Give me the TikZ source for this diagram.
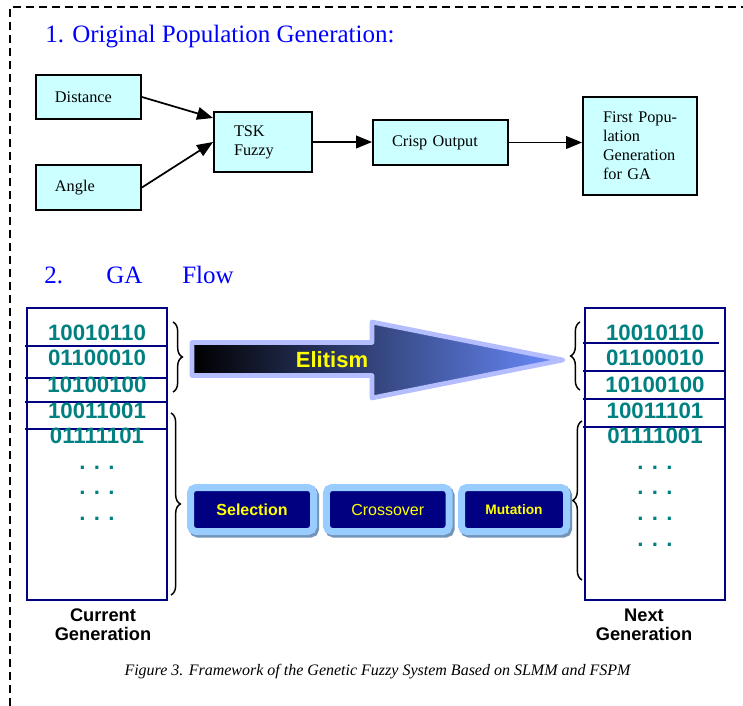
\documentclass[tikz,border=0pt]{standalone}
\usepackage{fontspec}
\setmainfont{Liberation Serif}
\setsansfont{Liberation Sans}
\usetikzlibrary{arrows.meta,decorations.pathreplacing}
\definecolor{boxcyan}{HTML}{CCFFFF}
\definecolor{titleblue}{HTML}{0000FF}
\definecolor{tablenavy}{HTML}{000080}
\definecolor{bitteal}{HTML}{008080}
\definecolor{btnnavy}{HTML}{000080}
\definecolor{btnblue}{HTML}{99CCFF}
\definecolor{btnshadow}{HTML}{7393B8}
\definecolor{btnyellow}{HTML}{FFFF00}
\definecolor{elitblue}{HTML}{6A8CFF}
\definecolor{elitrim}{HTML}{B4BEFF}
\begin{document}
\begin{tikzpicture}[x=0.75pt,y=-0.75pt,
    fuzzybox/.style={draw,fill=boxcyan,line width=1.4pt,align=left,inner ysep=0pt,
      font=\fontsize{12.2}{14.3}\selectfont},
    flowarrow/.style={line width=1.3pt,-{Triangle[length=12pt,width=9.5pt]}},
    heading/.style={anchor=base west,inner sep=0pt,text=titleblue,
      font=\fontsize{18.75}{22}\selectfont},
    poptable/.style={draw=tablenavy,line width=1.9pt,minimum width=105pt,
      minimum height=219pt,inner sep=0pt},
    divider/.style={draw=tablenavy,line width=1.9pt},
    bits/.style={text=bitteal,inner sep=0pt,font=\sffamily\bfseries\fontsize{16.7}{18}\selectfont},
    genbrace/.style={decorate,decoration={brace,amplitude=7pt},line width=1.1pt},
    gabutton/.style={fill=btnnavy,draw=btnblue,line width=5.25pt,rounded corners=4pt,
      minimum height=33pt,inner sep=0pt,text=btnyellow,
      preaction={fill=btnshadow,draw=btnshadow,transform canvas={xshift=1.6pt,yshift=-2pt}}},
    genlabel/.style={align=center,inner sep=0pt,font=\sffamily\bfseries\fontsize{13.7}{14.3}\selectfont}]
  \useasboundingbox (0,0) rectangle (743,706);
  \draw[line width=1.3pt,dash pattern=on 6pt off 3.75pt] (10,706) -- (10,7) -- (743,7);

  % 1. original population
  \path (45,43) node[heading] (head1) {1. Original Population Generation:};
  \path (88.5,97) node[fuzzybox,inner xsep=14.25pt,text width=50.25pt,minimum height=33pt] (dist) {Distance};
  \path (88.5,187.5) node[fuzzybox,inner xsep=14.25pt,text width=50.25pt,minimum height=33.75pt] (angle) {Angle};
  \path (263,142) node[fuzzybox,inner xsep=15pt,text width=43.5pt,minimum height=45pt] (tsk) {TSK\\Fuzzy};
  \path (440.5,142.5) node[fuzzybox,inner xsep=14.25pt,text width=72.75pt,minimum height=33.75pt] (crisp) {Crisp Output};
  \path (640,146) node[fuzzybox,inner xsep=15pt,text width=55.5pt,minimum height=73.5pt] (first) {\mbox{First Popu-}\\lation\\Generation\\for GA};

  \draw[flowarrow] (dist.east) -- ([yshift=18pt]tsk.west);
  \draw[flowarrow] (angle.east) -- (tsk.west);
  \draw[flowarrow] (tsk.east) -- (tsk.east -| crisp.west);
  \draw[flowarrow] (crisp.east) -- (crisp.east -| first.west);

  % 2. GA flow
  \path (44,283) node[heading] (head2) {2.};
  \path (106,283) node[heading] (head3) {GA};
  \path (182,283) node[heading] (head4) {Flow};

  \path (97,454) node[poptable] (cur) {};
  \path (655,454) node[poptable] (next) {};
  \foreach \y in {346,378,402,429}
    \draw[divider] (25,\y) -- (167,\y);
  \draw[divider] (583,343) -- (719,343);
  \foreach \y in {371,399,427}
    \draw[divider] (583,\y) -- (725,\y);

  \foreach \b/\y [count=\i] in {10010110/333,01100010/358,10100100/385,10011001/411,01111101/436}
    \path (97,\y) node[bits] (curbit\i) {\b};
  \foreach \y [count=\i] in {468,493,519}
    \path (97,\y) node[bits] (curdots\i) {. . .};
  \foreach \b/\y [count=\i] in {10010110/333,01100010/358,10100100/385,10011101/411,01111001/436}
    \path (655,\y) node[bits] (nextbit\i) {\b};
  \foreach \y [count=\i] in {468,493,519,545}
    \path (655,\y) node[bits] (nextdots\i) {. . .};

  \draw[genbrace] (173,322) -- (173,392);
  \draw[genbrace] (171,413) -- (171,595);
  \draw[genbrace] (580,390) -- (580,322);
  \draw[genbrace] (582,580) -- (582,421);

  \draw[draw=elitrim,line width=3.5pt,line join=round,left color=black,right color=elitblue]
    (192,342.5) -- (372,342.5) -- (372,322) -- (563,360) -- (372,398) -- (372,375.5) -- (192,375.5) -- cycle;
  \path (332,360) node[text=btnyellow,font=\sffamily\bfseries\fontsize{16.5}{18}\selectfont] (elit) {Elitism};

  \path (252,509.5) node[gabutton,minimum width=92.25pt,font=\sffamily\bfseries\fontsize{12}{14}\selectfont] (sel) {Selection};
  \path (387.75,509.5) node[gabutton,minimum width=91.9pt,font=\sffamily\fontsize{12}{14}\selectfont] (cross) {Crossover};
  \path (514,509.5) node[gabutton,minimum width=78.75pt,font=\sffamily\bfseries\fontsize{10.3}{12}\selectfont] (mut) {Mutation};

  \path (103,625) node[genlabel] (curlbl) {Current\\Generation};
  \path (644,625) node[genlabel] (nextlbl) {Next\\Generation};

  \path (377.5,672) node[font=\itshape\fontsize{12}{14}\selectfont] (cap) {Figure 3. Framework of the Genetic Fuzzy System Based on SLMM and FSPM};
\end{tikzpicture}
\end{document}
